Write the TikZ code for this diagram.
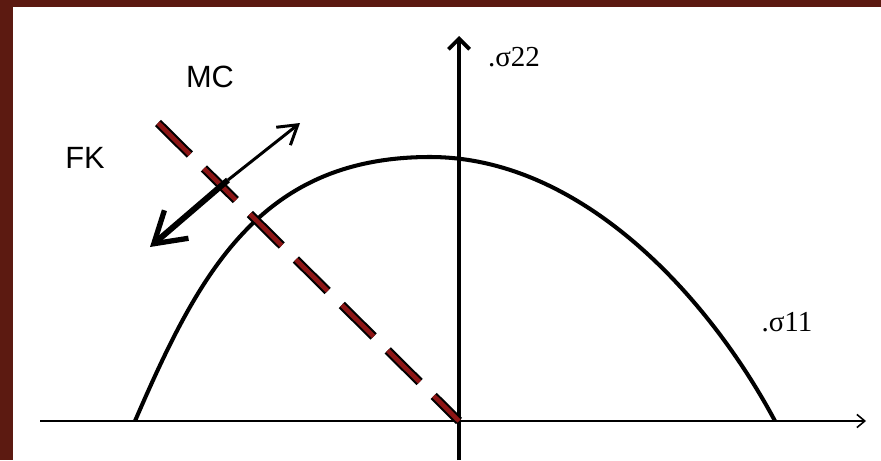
\documentclass[tikz,border=0pt]{standalone}
\usepackage{fontspec}
\setmainfont{Liberation Serif}
\newfontfamily\labelsans{Liberation Sans}
\usepackage{tikz}
\usetikzlibrary{arrows.meta}
\definecolor{frameborder}{HTML}{5C1A11}
\definecolor{mcred}{HTML}{8E1616}

\begin{document}
\begin{tikzpicture}[
    x=0.02cm, y=-0.02cm,
    sanslabel/.style={inner sep=0pt, font=\labelsans\fontsize{17.5}{20}\selectfont},
    sigmalabel/.style={inner sep=0pt, font=\fontsize{16.5}{19}\selectfont},
    haxis/.style={black, line width=1.1pt, -{Straight Barb[length=4.5pt, width=7.5pt, line width=0.9pt]}},
    vaxis/.style={black, line width=2.5pt, -{Straight Barb[length=6pt, width=12pt, line width=2.2pt]}},
    yield/.style={black, line width=2.3pt, line join=round},
    mcline/.style={draw=black, double=mcred, double distance=2.6pt, line width=1.2pt, dash pattern=on 25.5pt off 11.3pt},
    thinarr/.style={black, line width=1.7pt, -{Straight Barb[length=10.5pt, width=13pt, line width=1.7pt]}},
    thickarr/.style={black, line width=3.4pt, -{Straight Barb[length=17pt, width=21pt, line width=3pt]}},
  ]
    % frame
    \useasboundingbox (0,0) rectangle (881,460);
    \fill[white] (0,0) rectangle (881,460);
    \fill[frameborder] (0,0) rectangle (881,7);
    \fill[frameborder] (0,0) rectangle (13,460);

    % axes
    \coordinate (o) at (459,421);
    \coordinate (xstart) at (40,421);
    \coordinate (xend) at (866,421);
    \coordinate (ystart) at (459,460);
    \coordinate (yend) at (459,36);
    \draw[haxis] (xstart) -- (xend);
    \draw[vaxis] (ystart) -- (yend);

    % yield curve
    \coordinate (yleft) at (135,421);
    \coordinate (ytop) at (430,157);
    \coordinate (yright) at (775,421);
    \draw[yield] (yleft) .. controls (199,273) and (260,157) .. (ytop)
                         .. controls (580,157) and (707,294) .. (yright);

    % MC line
    \coordinate (mctop) at (158,123);
    \draw[mcline] (mctop) -- (o);

    % FK double arrow
    \coordinate (fkmid) at (228,180);
    \coordinate (fkup) at (300,123);
    \coordinate (fkdown) at (150,247);
    \draw[thinarr] (fkmid) -- (fkup);
    \draw[thickarr] (fkmid) -- (fkdown);

    % labels
    \node[sanslabel] (mc) at (210,77) {MC};
    \node[sanslabel] (fk) at (85,158) {FK};
    \node[sigmalabel] (s22) at (514,57) {.σ22};
    \node[sigmalabel] (s11) at (787,322) {.σ11};
  \end{tikzpicture}
\end{document}
